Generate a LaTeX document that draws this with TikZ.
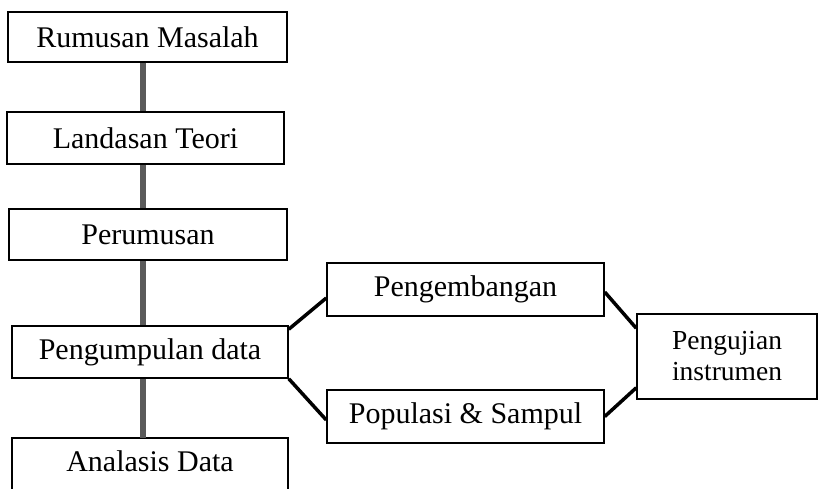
\documentclass[tikz,border=0pt]{standalone}
\usepackage{fontspec}
\setmainfont{Liberation Serif}
\begin{document}
\begin{tikzpicture}[x={(1pt,0)},y={(0,-1pt)},
  box/.style={draw=black,line width=1.5pt,fill=white,inner sep=0pt,align=center,
    font=\fontsize{30}{34}\selectfont},
  openbox/.style={inner sep=0pt,align=center,font=\fontsize{30}{34}\selectfont},
  spine/.style={draw={rgb,255:red,90;green,90;blue,90},line width=5.5pt},
  link/.style={draw=black,line width=3.5pt}]
\useasboundingbox (0,0) rectangle (819,489);
\clip (0,0) rectangle (819,489);
\coordinate (sx) at (143,0);
% left column
\node[box,minimum width=279pt,minimum height=50pt] (b1) at (147.5,37) {Rumusan Masalah};
\node[box,minimum width=277pt,minimum height=52pt] (b2) at (145.5,138) {Landasan Teori};
\node[box,minimum width=278pt,minimum height=51pt] (b3) at (148,234.5) {Perumusan};
\node[box,minimum width=276pt,minimum height=52pt] (b4) at (150,352) {Pengumpulan data};
\node[openbox,minimum width=276pt,minimum height=46pt] (b5) at (150,461) {Analasis Data};
\draw[line width=1.5pt] ([yshift=-30pt]b5.south west) -- (b5.north west) -- (b5.north east) -- ([yshift=-30pt]b5.south east);
% right part
\node[box,minimum width=277pt,minimum height=53pt] (pg) at (465.5,289.5) {Pengembangan};
\node[box,minimum width=277pt,minimum height=53pt] (pop) at (465.5,416.5) {Populasi \& Sampul};
\node[box,minimum width=180pt,minimum height=85pt,font=\fontsize{27.5}{31}\selectfont] (pj) at (727,356.5) {Pengujian\\instrumen};
% spine
\draw[spine] (b1.south -| sx) -- (b2.north -| sx);
\draw[spine] (b2.south -| sx) -- (b3.north -| sx);
\draw[spine] (b3.south -| sx) -- (b4.north -| sx);
\draw[spine] (b4.south -| sx) -- (b5.north -| sx);
% links
\draw[link] ([yshift=-4pt]b4.north east) -- ([yshift=-8.5pt]pg.west);
\draw[link] (b4.south east) -- ([yshift=-3.5pt]pop.west);
\draw[link] ([yshift=-2.5pt]pg.east) -- ([yshift=-15pt]pj.north west);
\draw[link] (pop.east) -- ([yshift=12pt]pj.south west);
\end{tikzpicture}
\end{document}
